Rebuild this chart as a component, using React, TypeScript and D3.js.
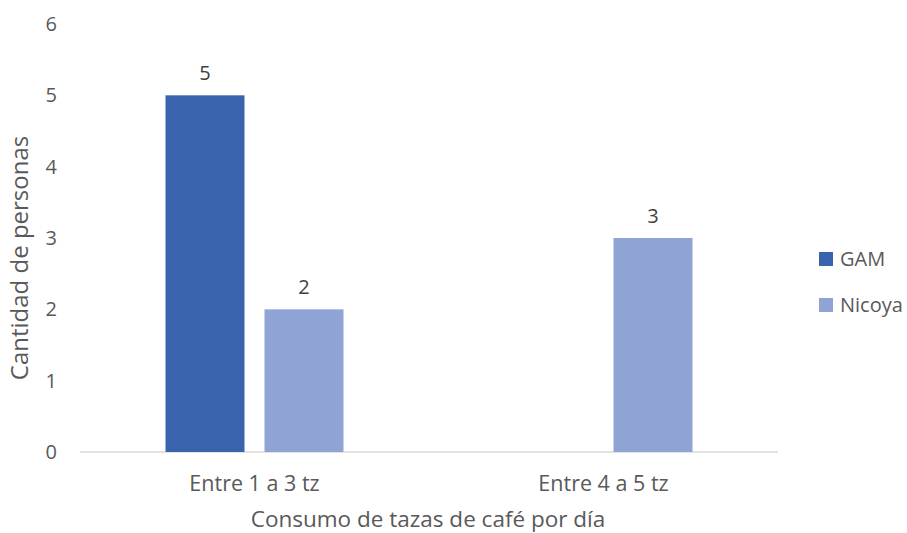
import React from "react";
import * as d3 from "d3";

const categories = ["Entre 1 a 3 tz", "Entre 4 a 5 tz"];
const seriesNames = ["GAM", "Nicoya"];
const gamValues = [5, 0];
const nicoyaValues = [2, 3];
const yTicks = [0, 1, 2, 3, 4, 5, 6];

const colors = ["#3A63AD", "#8FA4D4"];
const textColor = "#595959";
const font = "'Open Sans', 'Liberation Sans', sans-serif";

export default function App() {
  const W = 907;
  const H = 533;
  const left = 80;
  const right = 778;
  const top = 24;
  const bottom = 452;

  const x = d3.scaleBand<string>().domain(categories).range([left, right]);
  const y = d3.scaleLinear().domain([0, 6]).range([bottom, top]);

  const barW = 79;
  const gap = 20;
  const series = [gamValues, nicoyaValues];

  return (
    <svg width={W} height={H} style={{ position: "absolute", left: 0, top: 0 }} fontFamily={font}>
      <rect width={W} height={H} fill="#fff" />
      {yTicks.map((t) => (
        <text key={t} x={57} y={y(t)} dy="0.35em" textAnchor="end" fontSize={20} fill={textColor}>
          {t}
        </text>
      ))}
      <line x1={left} x2={right} y1={bottom} y2={bottom} stroke="#D9D9D9" strokeWidth={1.5} />
      {categories.map((c, ci) => {
        const cx = (x(c) as number) + x.bandwidth() / 2;
        return (
          <g key={c}>
            {series.map((vals, si) => {
              const v = vals[ci];
              const bx = cx - gap / 2 - barW + si * (barW + gap);
              if (v === 0) return null;
              return (
                <g key={si}>
                  <rect x={bx} y={y(v)} width={barW} height={bottom - y(v)} fill={colors[si]} />
                  <text x={bx + barW / 2} y={y(v) - 15} textAnchor="middle" fontSize={20} fill="#404040">
                    {v}
                  </text>
                </g>
              );
            })}
            <text x={cx} y={491} textAnchor="middle" fontSize={21.5} fill={textColor}>
              {c}
            </text>
          </g>
        );
      })}
      <text
        transform={`translate(28,${(top + bottom) / 2 + 20}) rotate(-90)`}
        textAnchor="middle"
        fontSize={24}
        fill={textColor}
      >
        Cantidad de personas
      </text>
      <text x={428} y={527} textAnchor="middle" fontSize={22.5} fill={textColor}>
        Consumo de tazas de café por día
      </text>
      {seriesNames.map((n, i) => (
        <g key={n} transform={`translate(819,${252 + i * 46})`}>
          <rect width={14} height={14} fill={colors[i]} />
          <text x={21} y={7} dy="0.35em" fontSize={20} fill={textColor}>
            {n}
          </text>
        </g>
      ))}
    </svg>
  );
}
